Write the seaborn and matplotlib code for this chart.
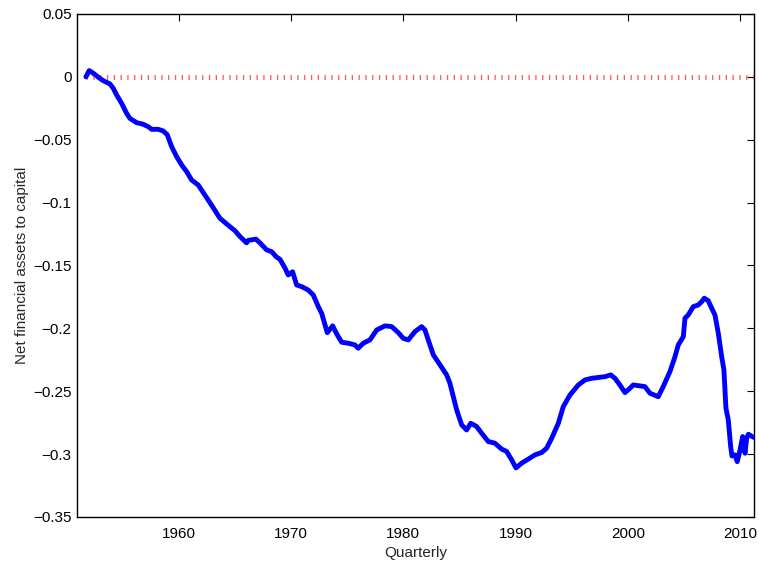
import matplotlib
matplotlib.use("Agg")
import matplotlib.pyplot as plt
import seaborn as sns
import pandas as pd

years = [1951.71, 1952.00, 1952.36, 1952.81, 1953.25, 1953.85, 1954.14, 1954.45, 1954.89, 1955.34,
         1955.63, 1956.23, 1956.82, 1957.26, 1957.57, 1958.16, 1958.60, 1958.96, 1959.35, 1959.80,
         1960.24, 1960.69, 1961.13, 1961.72, 1962.32, 1962.91, 1963.65, 1964.39, 1964.99, 1965.44,
         1966.03, 1966.18, 1966.86, 1967.22, 1967.82, 1968.26, 1968.71, 1969.00, 1969.45, 1969.74,
         1970.13, 1970.49, 1970.94, 1971.52, 1971.97, 1972.42, 1972.72, 1973.22, 1973.70, 1974.06,
         1974.50, 1975.09, 1975.69, 1975.98, 1976.43, 1977.02, 1977.62, 1978.36, 1978.96, 1979.55,
         1979.99, 1980.44, 1981.03, 1981.63, 1981.93, 1982.22, 1982.67, 1983.26, 1983.86, 1984.15,
         1984.45, 1984.75, 1985.20, 1985.64, 1986.00, 1986.53, 1986.98, 1987.57, 1988.16, 1988.76,
         1989.21, 1989.65, 1990.04, 1990.54, 1991.13, 1991.73, 1992.33, 1992.77, 1993.22, 1993.81,
         1994.25, 1994.85, 1995.59, 1996.19, 1996.78, 1997.52, 1997.97, 1998.48, 1998.86, 1999.30,
         1999.75, 2000.20, 2000.49, 2001.09, 2001.53, 2001.98, 2002.72, 2003.16, 2003.76, 2004.21,
         2004.50, 2004.95, 2005.10, 2005.39, 2005.84, 2006.28, 2006.59, 2006.82, 2007.17, 2007.48,
         2007.77, 2008.07, 2008.37, 2008.57, 2008.75, 2008.96, 2009.17, 2009.29, 2009.55, 2009.76,
         2010.00, 2010.24, 2010.45, 2010.60, 2010.75, 2011.20]
values = [0.0, 0.005, 0.003, -0.0003, -0.003, -0.0056, -0.009, -0.0144, -0.021, -0.029,
          -0.033, -0.0364, -0.0377, -0.0396, -0.0417, -0.0417, -0.043, -0.046, -0.0555, -0.0635,
          -0.070, -0.0754, -0.082, -0.086, -0.094, -0.102, -0.1124, -0.118, -0.1223, -0.127,
          -0.132, -0.130, -0.129, -0.132, -0.1376, -0.139, -0.1434, -0.145, -0.152, -0.1575,
          -0.155, -0.1655, -0.1668, -0.1695, -0.1734, -0.1827, -0.188, -0.2034, -0.198, -0.2044,
          -0.211, -0.2118, -0.2132, -0.2158, -0.2118, -0.2092, -0.2013, -0.198, -0.1986, -0.2034,
          -0.2079, -0.2092, -0.2026, -0.1986, -0.2013, -0.2092, -0.221, -0.229, -0.237, -0.2436,
          -0.2543, -0.2648, -0.2768, -0.2808, -0.2755, -0.278, -0.2834, -0.29, -0.2913, -0.296,
          -0.2979, -0.3045, -0.311, -0.3072, -0.304, -0.3006, -0.2987, -0.2953, -0.2874, -0.2755,
          -0.2623, -0.253, -0.245, -0.241, -0.2397, -0.2389, -0.2384, -0.237, -0.2397, -0.245,
          -0.2511, -0.2476, -0.245, -0.2458, -0.2463, -0.2516, -0.2543, -0.2463, -0.2344, -0.2225,
          -0.2132, -0.2066, -0.1919, -0.1893, -0.1827, -0.1814, -0.1788, -0.176, -0.178, -0.184,
          -0.1893, -0.2039, -0.2225, -0.233, -0.2635, -0.2728, -0.294, -0.3015, -0.3006, -0.306,
          -0.297, -0.286, -0.2993, -0.2874, -0.2842, -0.2866]

xticks = [1960, 1970, 1980, 1990, 2000, 2010]
xtick_labels = ["1960", "1970", "1980", "1990", "2000", "2010"]
yticks = [0.05, 0, -0.05, -0.1, -0.15, -0.2, -0.25, -0.3, -0.35]
ytick_labels = ["0.05", "0", "\u22120.05", "\u22120.1", "\u22120.15", "\u22120.2", "\u22120.25", "\u22120.3", "\u22120.35"]

df = pd.DataFrame({"Quarter": years, "Ratio": values})
zero_df = pd.DataFrame({"Quarter": [years[0], years[-1]], "Ratio": [0.0, 0.0]})

sns.set_style("white")
plt.rcParams["font.family"] = ["Liberation Sans", "DejaVu Sans"]
plt.rcParams["axes.unicode_minus"] = True

fig = plt.figure(figsize=(7.59, 5.69), dpi=100)
ax = fig.add_axes([0.1018, 0.0914, 0.8916, 0.884])

sns.lineplot(data=zero_df, x="Quarter", y="Ratio", ax=ax, color="#ff3333", alpha=0.8,
             linewidth=3.6, linestyle=(0, (0.26, 1.1)), dash_capstyle="butt", zorder=1)
sns.lineplot(data=df, x="Quarter", y="Ratio", ax=ax, color="#0000ff", linewidth=3.5,
             zorder=3, solid_joinstyle="round", solid_capstyle="round")

ax.set_xlim(1950.94, 2011.25)
ax.set_ylim(-0.35, 0.05)
ax.set_xticks(xticks)
ax.set_xticklabels(xtick_labels)
ax.set_yticks(yticks)
ax.set_yticklabels(ytick_labels)
ax.tick_params(direction="in", length=5, width=0.8, top=True, right=True,
               labelsize=11, colors="black")
ax.tick_params(axis="y", pad=4)
ax.tick_params(axis="x", pad=7)
for s in ax.spines.values():
    s.set_visible(True)
    s.set_color("black")
    s.set_linewidth(1.0)
ax.set_xlabel("Quarterly", fontsize=11, labelpad=4)
ax.set_ylabel("Net financial assets to capital", fontsize=11, labelpad=3)

fig.savefig("out.png", dpi=100, facecolor="white")
